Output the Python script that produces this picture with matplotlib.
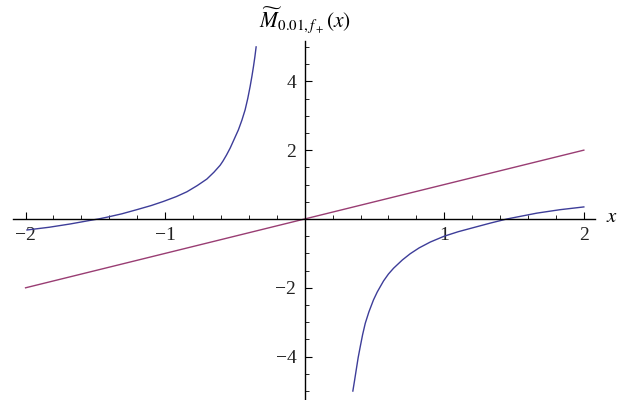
import matplotlib
matplotlib.use("Agg")
import matplotlib.pyplot as plt
from matplotlib.ticker import FixedLocator

plt.rcParams['font.family'] = ['Liberation Serif', 'DejaVu Serif']
plt.rcParams['mathtext.fontset'] = 'stix'

# Values
blue_left_x = [-1.99, -1.83, -1.68, -1.55, -1.478, -1.418, -1.31, -1.203,
               -1.10, -1.012, -0.92, -0.844, -0.77, -0.701, -0.65, -0.606,
               -0.586, -0.56, -0.534, -0.505, -0.475, -0.45, -0.427, -0.408,
               -0.391, -0.378, -0.367, -0.357, -0.348]
blue_left_y = [-0.32, -0.24, -0.145, -0.05, 0.0, 0.05, 0.15, 0.27,
               0.39, 0.51, 0.65, 0.79, 0.97, 1.16, 1.36, 1.56,
               1.68, 1.86, 2.06, 2.32, 2.59, 2.87, 3.17, 3.50,
               3.85, 4.15, 4.43, 4.71, 5.0]

blue_right_x = [0.345, 0.357, 0.369, 0.383, 0.398, 0.415, 0.434, 0.46,
                0.493, 0.52, 0.541, 0.565, 0.60, 0.637, 0.70, 0.756,
                0.82, 0.90, 1.00, 1.10, 1.21, 1.33, 1.449, 1.55,
                1.664, 1.83, 2.0]
blue_right_y = [-5.0, -4.70, -4.39, -4.03, -3.71, -3.36, -3.03, -2.70,
                -2.35, -2.12, -1.97, -1.80, -1.60, -1.43, -1.19, -1.01,
                -0.84, -0.67, -0.50, -0.37, -0.25, -0.12, 0.0, 0.08,
                0.17, 0.27, 0.35]

red_x = [-2.0, 2.0]
red_y = [-2.0, 2.0]

x_major = [-2, -1, 1, 2]
x_minor = [-1.8, -1.6, -1.4, -1.2, -0.8, -0.6, -0.4, -0.2,
           0.2, 0.4, 0.6, 0.8, 1.2, 1.4, 1.6, 1.8]
y_major = [-4, -2, 2, 4]
y_minor = [-5, -4.5, -3.5, -3, -2.5, -1.5, -1, -0.5,
           0.5, 1, 1.5, 2.5, 3, 3.5, 4.5, 5]

blue = '#3d3d99'
red = '#993d73'

fig = plt.figure(figsize=(6.22, 4.0), dpi=100)
ax = fig.add_axes([13 / 622, 0.0, 582 / 622, 359.3 / 400])
ax.set_xlim(-2.09, 2.08)
ax.set_ylim(-5.26, 5.18)

ax.plot(blue_left_x, blue_left_y, color=blue, lw=1.0)
ax.plot(blue_right_x, blue_right_y, color=blue, lw=1.0)
ax.plot(red_x, red_y, color=red, lw=1.0)

# axes through the origin
for side in ['top', 'right']:
    ax.spines[side].set_visible(False)
ax.spines['left'].set_position(('data', 0))
ax.spines['bottom'].set_position(('data', 0))
for side in ['left', 'bottom']:
    ax.spines[side].set_linewidth(1.0)

ax.xaxis.set_major_locator(FixedLocator(x_major))
ax.xaxis.set_minor_locator(FixedLocator(x_minor))
ax.yaxis.set_major_locator(FixedLocator(y_major))
ax.yaxis.set_minor_locator(FixedLocator(y_minor))
ax.set_xticklabels([str(v).replace('-', '\u2212') for v in x_major])
ax.set_yticklabels([str(v).replace('-', '\u2212') for v in y_major])

ax.tick_params(axis='x', which='major', direction='in', length=5, width=0.8,
               pad=6, labelsize=14, labelcolor='#222222')
ax.tick_params(axis='x', which='minor', direction='in', length=3, width=0.6)
ax.tick_params(axis='y', which='major', direction='in', length=5, width=0.8,
               pad=6, labelsize=14, labelcolor='#222222')
ax.tick_params(axis='y', which='minor', direction='in', length=3, width=0.6)

fig.text(612 / 622, 1 - 217 / 400, r'$x$', fontsize=15, ha='center', va='center')
fig.text(305 / 622, 1 - 21 / 400, r'$\widetilde{M}_{0.01,f_+}(x)$',
         fontsize=15.5, ha='center', va='center')

fig.savefig('out.png', dpi=100)
